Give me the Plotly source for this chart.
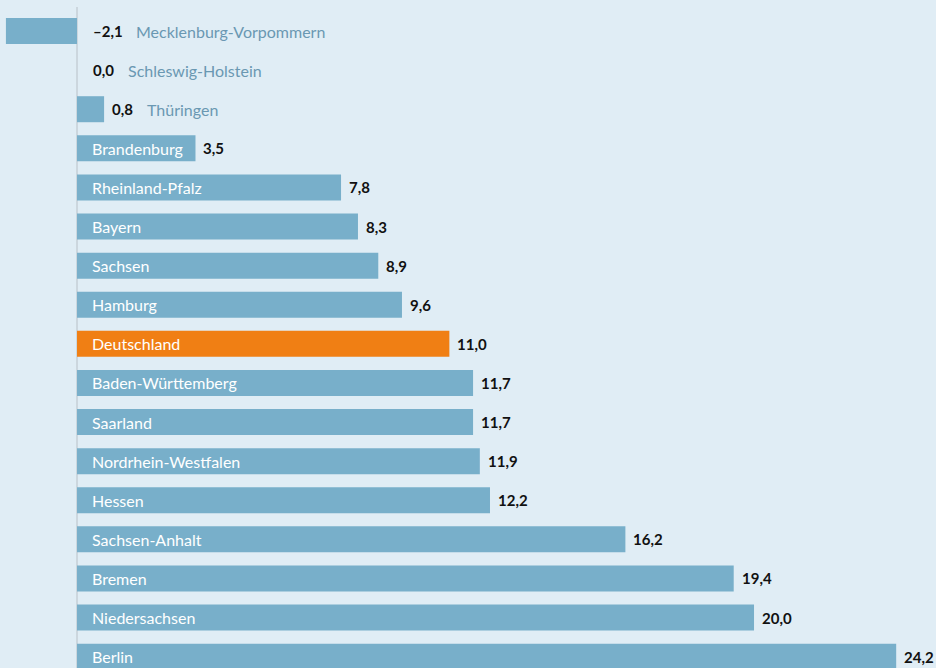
import plotly.graph_objects as go

# Change by federal state, in percent
laender = [
    "Mecklenburg-Vorpommern", "Schleswig-Holstein", "Thüringen", "Brandenburg",
    "Rheinland-Pfalz", "Bayern", "Sachsen", "Hamburg", "Deutschland",
    "Baden-Württemberg", "Saarland", "Nordrhein-Westfalen", "Hessen",
    "Sachsen-Anhalt", "Bremen", "Niedersachsen", "Berlin",
]
werte = [-2.1, 0.0, 0.8, 3.5, 7.8, 8.3, 8.9, 9.6, 11.0,
         11.7, 11.7, 11.9, 12.2, 16.2, 19.4, 20.0, 24.2]

BG = "#e0edf5"
BAR = "#78afca"
HIGHLIGHT = "#f07f14"
NAME_OUT = "#6a98b2"
FONT = "Lato, 'Open Sans', sans-serif"

colors = [HIGHLIGHT if n == "Deutschland" else BAR for n in laender]

fig = go.Figure(go.Bar(
    x=werte, y=laender, orientation="h",
    marker=dict(color=colors, line=dict(width=0)),
    width=0.665, hoverinfo="skip",
))


def fmt(v):
    s = f"{abs(v):.1f}".replace(".", ",")
    return ("–" + s) if v < 0 else s


def text_width(s, size):
    # rough advance widths for Lato bold
    w = 0
    for ch in s:
        if ch.isdigit():
            w += 0.58 * size
        elif ch == ",":
            w += 0.25 * size
        else:
            w += 0.55 * size
    return w


VAL_SIZE = 15
NAME_SIZE = 16

annotations = []
for name, v in zip(laender, werte):
    base = max(v, 0)
    vshift = 6 if v > 0 else 14
    label = fmt(v)
    annotations.append(dict(
        x=base, y=name, xref="x", yref="y", text=f"<b>{label}</b>",
        showarrow=False, xanchor="left", yanchor="middle", xshift=vshift,
        font=dict(family=FONT, size=VAL_SIZE, color="#111111"),
    ))
    if v >= 3:
        annotations.append(dict(
            x=0, y=name, xref="x", yref="y", text=name,
            showarrow=False, xanchor="left", yanchor="middle", xshift=13,
            font=dict(family=FONT, size=NAME_SIZE, color="white"),
        ))
    else:
        annotations.append(dict(
            x=base, y=name, xref="x", yref="y", text=name,
            showarrow=False, xanchor="left", yanchor="middle",
            xshift=vshift + text_width(label, VAL_SIZE) + 14,
            font=dict(family=FONT, size=NAME_SIZE, color=NAME_OUT),
        ))

fig.add_shape(type="line", xref="x", yref="paper", x0=0, x1=0,
              y0=0, y1=1 - 7 / 668, line=dict(color="#c5cfd6", width=1.5),
              layer="below")

fig.update_layout(
    width=936, height=668,
    margin=dict(l=0, r=0, t=0, b=0),
    paper_bgcolor=BG, plot_bgcolor=BG,
    showlegend=False,
    annotations=annotations,
    xaxis=dict(range=[-2.275, 25.376], visible=False, fixedrange=True),
    yaxis=dict(range=[16.29, -0.793], visible=False, type="category",
               fixedrange=True),
    font=dict(family=FONT),
)

fig.write_html("out.html")
